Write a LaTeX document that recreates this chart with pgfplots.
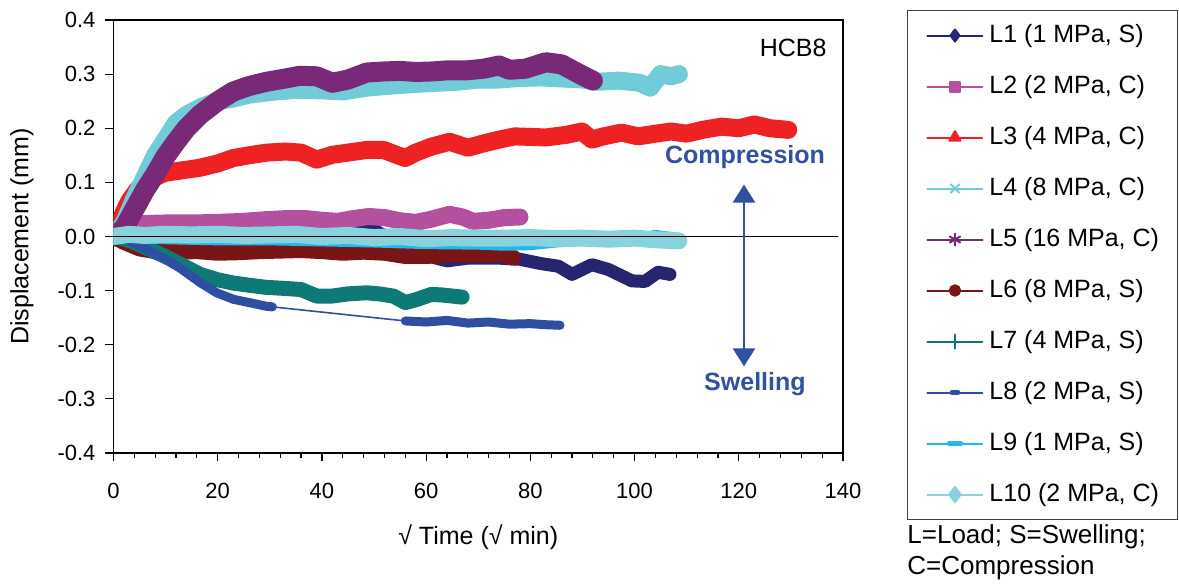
\documentclass[border=0pt]{standalone}
\usepackage{fontspec}
\setmainfont{Liberation Sans}
\usepackage{pgfplots}
\pgfplotsset{compat=1.18}
\usetikzlibrary{arrows.meta}
\definecolor{cLa}{HTML}{262670}
\definecolor{cLb}{HTML}{B450A0}
\definecolor{cLc}{HTML}{EE2222}
\definecolor{cLd}{HTML}{70CCD8}
\definecolor{cLe}{HTML}{7A2878}
\definecolor{cLf}{HTML}{7A1515}
\definecolor{cLg}{HTML}{0E7A78}
\definecolor{cLh}{HTML}{2E4EA2}
\definecolor{cLi}{HTML}{22B8EA}
\definecolor{cLj}{HTML}{88D2DE}
\definecolor{arr}{HTML}{3050A0}
\begin{document}
\begin{tikzpicture}
\useasboundingbox (-56.75pt,-65.5pt) rectangle ++(589.5pt,292pt);
\begin{axis}[
  at={(0,0)}, anchor=south west,
  scale only axis, width=364.75pt, height=216.5pt,
  xmin=0, xmax=140, ymin=-0.4, ymax=0.4,
  xtick={0,20,40,60,80,100,120,140},
  xticklabels={0,20,40,60,80,100,120,140},
  ytick={-0.4,-0.3,-0.2,-0.1,0,0.1,0.2,0.3,0.4},
  yticklabels={-0.4,-0.3,-0.2,-0.1,0.0,0.1,0.2,0.3,0.4},
  minor x tick num=4,
  xtick pos=left, ytick pos=left,
  tick align=outside, major tick length=4pt, minor tick length=2.5pt,
  tick style={black, line width=0.6pt},
  axis line style={black, line width=0.8pt},
  tick label style={font=\fontsize{11}{13}\selectfont},
  xticklabel style={yshift=-7.5pt},
  yticklabel style={xshift=-1.5pt},
  xlabel={√ Time (√ min)},
  ylabel={Displacement (mm)},
  label style={font=\fontsize{12.5}{15}\selectfont},
  xlabel style={at={(axis description cs:0.5,-0.194)}, anchor=center},
  ylabel style={at={(axis description cs:-0.1254,0.5)}, anchor=center},
  legend style={at={(1.0877,1.0231)}, anchor=north west, draw=black!75, line width=0.5pt,
    inner xsep=9.5pt, inner ysep=6.75pt, row sep=14pt,
    font=\fontsize{12.5}{15}\selectfont,
    nodes={inner sep=0pt, text height=9pt, text depth=2.5pt}},
  legend cell align=left,
  legend image code/.code={%
    \draw[#1,mark repeat=2,mark phase=2] plot coordinates {(0pt,0pt) (13.75pt,0pt) (27.5pt,0pt)};
    \path (30.5pt,0pt);},
  every axis plot/.append style={line join=round, line cap=round},
]
% L1
\addplot[cLa, line width=6.5pt, forget plot] coordinates {
(0,0) (2,0.005) (5,0.01) (10,0.015) (15,0.022) (18,0.028) (22,0.03) (26,0.03) (30,0.025) (35,0.018) (40,0.016) (45,0.018) (50,0.012) (55,-0.015) (60,-0.035) (64,-0.045) (68,-0.04) (74,-0.04) (78,-0.042) (82,-0.05) (85.4,-0.055) (88,-0.07) (91.8,-0.052) (95,-0.061) (99.5,-0.082) (102,-0.083) (104.5,-0.066) (106.8,-0.07)};
% L2
\addplot[cLb, line width=8.5pt, forget plot] coordinates {
(0,0) (1.5,0.015) (3,0.022) (6,0.024) (10,0.025) (15,0.025) (20,0.026) (25,0.028) (29,0.031) (33,0.033) (37,0.033) (40,0.03) (43,0.028) (46,0.033) (49,0.037) (52,0.035) (55,0.029) (58,0.026) (61,0.032) (64.5,0.041) (67,0.036) (69,0.028) (72,0.03) (75,0.035) (78,0.036)};
% L3
\addplot[cLc, line width=9pt, forget plot] coordinates {
(0,0) (1,0.02) (2,0.045) (3,0.065) (4.5,0.085) (6,0.1) (8,0.11) (10,0.118) (13,0.122) (16.6,0.127) (20,0.135) (23,0.145) (26,0.15) (29.4,0.155) (33,0.157) (36,0.155) (39,0.142) (42,0.151) (45,0.155) (48.6,0.16) (51.8,0.16) (54,0.152) (56,0.145) (58,0.155) (61,0.166) (64.5,0.175) (68,0.164) (71,0.172) (74,0.179) (77,0.185) (80,0.184) (83,0.183) (87,0.188) (89.9,0.194) (91.8,0.179) (94,0.185) (97.5,0.192) (100.7,0.185) (104,0.19) (107,0.194) (110,0.19) (113,0.197) (116.7,0.203) (120,0.2) (123,0.207) (126,0.2) (129.5,0.197)};
% L4
\addplot[cLd, line width=9pt, forget plot] coordinates {
(0,0) (2,0.025) (4,0.07) (6,0.11) (8,0.15) (10,0.18) (12,0.21) (14,0.225) (17,0.24) (20,0.25) (23,0.255) (26,0.262) (30,0.267) (35,0.271) (40,0.27) (44,0.268) (48.6,0.275) (52,0.278) (55,0.28) (58,0.282) (62,0.284) (66,0.286) (70,0.29) (74,0.29) (78,0.293) (82,0.294) (86,0.292) (90,0.29) (93,0.286) (97,0.288) (101,0.284) (103,0.275) (105,0.3) (107,0.296) (108.5,0.3)};
% L5
\addplot[cLe, line width=10pt, forget plot] coordinates {
(0,0) (2,0.015) (4,0.05) (6,0.085) (8,0.115) (10,0.148) (12,0.175) (14,0.2) (16.6,0.225) (20,0.25) (23,0.268) (26,0.278) (29.4,0.286) (33,0.292) (35.8,0.297) (39,0.296) (42,0.284) (45,0.29) (48.6,0.303) (52,0.305) (55,0.306) (58,0.304) (61.3,0.305) (64,0.307) (67.8,0.307) (71,0.31) (74,0.316) (76,0.308) (79,0.31) (83,0.322) (86,0.318) (89.5,0.3) (92,0.288)};
% L6
\addplot[cLf, line width=8pt, forget plot] coordinates {
(0,0) (2,-0.01) (5,-0.022) (8,-0.027) (12,-0.028) (16,-0.027) (20,-0.03) (24,-0.029) (28,-0.027) (32,-0.026) (36,-0.025) (40,-0.027) (44,-0.03) (48,-0.028) (52,-0.03) (56,-0.036) (60,-0.036) (64,-0.033) (68,-0.033) (72,-0.033) (74,-0.032) (76.7,-0.039)};
% L7
\addplot[cLg, line width=7.5pt, forget plot] coordinates {
(0,0) (2,-0.004) (4,-0.011) (7,-0.024) (10.2,-0.038) (13,-0.052) (16.6,-0.07) (20,-0.08) (23,-0.086) (26,-0.09) (29.4,-0.094) (33,-0.096) (36,-0.098) (39,-0.11) (42,-0.11) (45,-0.106) (48.6,-0.104) (51,-0.106) (53.7,-0.11) (56,-0.122) (58,-0.117) (61,-0.107) (63,-0.108) (65,-0.11) (66.9,-0.112)};
% L8
\addplot[cLh, line width=4.5pt, forget plot] coordinates {
(0,0) (2,-0.004) (4,-0.012) (7,-0.027) (10.2,-0.043) (13,-0.06) (16.6,-0.085) (19.8,-0.104) (23,-0.116) (26,-0.122) (29.4,-0.129) (30.5,-0.13)};
\addplot[cLh, line width=0.8pt, forget plot] coordinates {(30.5,-0.13) (56,-0.156)};
\addplot[cLh, line width=4.5pt, forget plot] coordinates {
(56,-0.156) (60,-0.158) (64,-0.155) (68,-0.16) (72,-0.158) (76,-0.162) (80,-0.161) (83,-0.163) (85.7,-0.164)};
% L9
\addplot[cLi, line width=4.5pt, forget plot] coordinates {
(0,0) (5,-0.004) (10,-0.006) (20,-0.008) (30,-0.008) (40,-0.01) (50,-0.012) (60,-0.015) (70,-0.016) (75,-0.018) (80,-0.017) (85,-0.012) (90,-0.008) (95,-0.005) (100,-0.004) (104,0.004) (107,0.0)};
% L10
\addplot[cLj, line width=8.5pt, forget plot] coordinates {
(0,0) (3,0.004) (6,0.002) (10,0.004) (15,0.003) (20,0.004) (25,0.002) (30,0.003) (35,0.004) (40,0.0) (45,0.002) (50,-0.002) (55,0.0) (60,-0.004) (65,-0.002) (70,-0.003) (75,-0.003) (80,-0.002) (85,-0.004) (90,-0.003) (95,-0.005) (100,-0.003) (104,-0.006) (108.5,-0.008)};
% zero line
\addplot[black, line width=0.9pt, forget plot] coordinates {(0,0) (139,0)};
% legend
\addlegendimage{cLa, line width=1pt, mark=diamond*, mark size=3pt, mark options={solid}}
\addlegendentry{L1 (1 MPa, S)}
\addlegendimage{cLb, line width=1pt, mark=square*, mark size=2.5pt}
\addlegendentry{L2 (2 MPa, C)}
\addlegendimage{cLc, line width=1pt, mark=triangle*, mark size=3.2pt}
\addlegendentry{L3 (4 MPa, C)}
\addlegendimage{cLd, line width=1pt, mark=x, mark size=3pt, mark options={line width=1pt}}
\addlegendentry{L4 (8 MPa, C)}
\addlegendimage{cLe, line width=1pt, mark=asterisk, mark size=3pt, mark options={line width=1pt}}
\addlegendentry{L5 (16 MPa, C)}
\addlegendimage{cLf, line width=1pt, mark=*, mark size=2.6pt}
\addlegendentry{L6 (8 MPa, S)}
\addlegendimage{cLg, line width=1pt, mark=|, mark size=3.5pt, mark options={line width=1pt}}
\addlegendentry{L7 (4 MPa, S)}
\addlegendimage{cLh, line width=1pt, mark=-, mark size=1.6pt, mark options={line width=2.2pt}}
\addlegendentry{L8 (2 MPa, S)}
\addlegendimage{cLi, line width=1pt, mark=-, mark size=3pt, mark options={line width=2.2pt}}
\addlegendentry{L9 (1 MPa, S)}
\addlegendimage{cLj, line width=1pt, mark=diamond*, mark size=3.8pt}
\addlegendentry{L10 (2 MPa, C)}
% annotations
\draw[arr, line width=1.2pt, {Triangle[width=11pt,length=9pt]}-{Triangle[width=11pt,length=9pt]}] (axis cs:121.0,-0.24) -- (axis cs:121.0,0.096);
\node[font=\bfseries\fontsize{12.5}{15}\selectfont, text=arr] at (axis cs:121.2,0.146) {Compression};
\node[font=\bfseries\fontsize{12.5}{15}\selectfont, text=arr] at (axis cs:123.1,-0.273) {Swelling};
\node[font=\fontsize{12.5}{15}\selectfont, anchor=east, inner sep=0pt] at (axis cs:136.9,0.349) {HCB8};
\end{axis}
\node[anchor=west, inner sep=0pt, font=\fontsize{13}{15}\selectfont] at (396.75pt,-42pt) {L=Load; S=Swelling;};
\node[anchor=west, inner sep=0pt, font=\fontsize{13}{15}\selectfont] at (396.75pt,-57.5pt) {C=Compression};
\end{tikzpicture}
\end{document}
